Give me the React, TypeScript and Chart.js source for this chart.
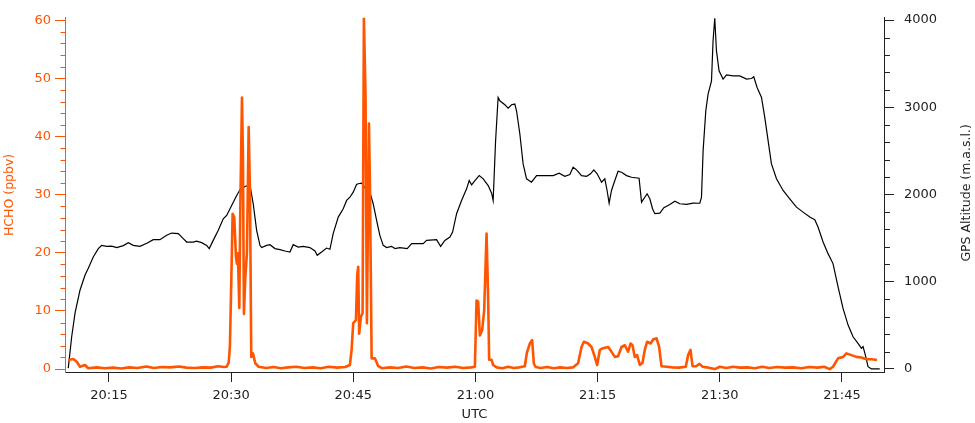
import React, { useEffect, useRef } from "react";
import { Chart, registerables } from "chart.js";

Chart.register(...registerables);

// Time in minutes after 20:00 UTC
const hchoTime = [
  10.0, 10.62, 11.04, 11.44, 12.05, 12.46, 13.5, 14.5, 15.5, 16.5, 17.5, 18.5, 19.6, 20.5, 21.5, 22.5, 23.6, 24.5, 25.5, 26.5,
  27.5, 28.4, 29.1, 29.45, 29.7, 29.85, 30.0, 30.18, 30.38, 30.59, 30.71, 30.83, 31.0, 31.12, 31.33, 31.45, 31.57, 31.73, 31.94, 32.15,
  32.31, 32.47, 32.68, 32.96, 33.38, 34.3, 35.2, 36.1, 37.0, 38.0, 39.0, 40.0, 41.0, 42.0, 43.0, 44.0, 44.58, 44.79, 44.99, 45.32,
  45.48, 45.6, 45.72, 45.93, 46.14, 46.3, 46.5, 46.67, 46.92, 47.04, 47.25, 47.65, 48.06, 48.5, 49.5, 50.5, 51.5, 52.5, 53.5, 54.5,
  55.5, 56.5, 57.5, 58.5, 59.5, 59.93, 60.13, 60.33, 60.54, 60.82, 61.07, 61.36, 61.56, 61.68, 61.98, 62.17, 62.6, 63.3, 64.0, 64.7,
  65.4, 66.06, 66.31, 66.68, 66.96, 67.17, 67.41, 68.0, 68.8, 69.6, 70.4, 71.2, 72.0, 72.6, 73.02, 73.31, 73.83, 74.25, 74.65, 74.94,
  75.27, 75.67, 76.29, 76.7, 77.11, 77.51, 77.93, 78.34, 78.74, 79.04, 79.28, 79.56, 79.85, 80.18, 80.51, 80.79, 81.07, 81.49, 81.81, 82.23,
  82.55, 82.84, 83.46, 84.2, 85.0, 85.82, 86.11, 86.4, 86.65, 87.1, 87.5, 87.9, 88.36, 89.38, 90.0, 90.8, 91.6, 92.5, 93.4, 94.3,
  95.2, 96.1, 97.0, 98.0, 99.0, 100.0, 101.0, 102.0, 102.8, 103.5, 103.9, 104.52, 105.13, 105.55, 106.16, 106.77, 107.39, 108.0, 108.62, 109.3,
];
const hchoValue = [
  1.56, 1.73, 1.27, 0.41, 0.7, 0.14, 0.3, 0.15, 0.25, 0.1, 0.3, 0.2, 0.45, 0.2, 0.35, 0.3, 0.45, 0.25, 0.2, 0.3,
  0.25, 0.5, 0.35, 0.41, 1.1, 4, 14, 26.7, 26.1, 19.3, 18.1, 19.9, 10.5, 27.3, 46.7, 36.4, 9.5, 15.5, 20, 41.6,
  30.7, 2.1, 2.7, 1.0, 0.4, 0.2, 0.35, 0.15, 0.3, 0.4, 0.2, 0.3, 0.15, 0.4, 0.25, 0.35, 0.7, 3.3, 7.9, 8.4,
  16.1, 17.6, 6.1, 9.0, 9.6, 60.5, 47, 7.9, 42.2, 31.9, 1.85, 1.85, 0.5, 0.15, 0.3, 0.2, 0.45, 0.2, 0.3, 0.1,
  0.35, 0.25, 0.4, 0.2, 0.3, 0.4, 11.8, 11.6, 5.8, 6.7, 10.1, 23.3, 11.9, 1.6, 1.6, 0.7, 0.3, 0.15, 0.4, 0.2,
  0.3, 0.5, 2.8, 4.4, 5.0, 0.9, 0.35, 0.2, 0.35, 0.15, 0.3, 0.2, 0.3, 1.0, 3.8, 4.7, 4.4, 3.8, 2.1, 0.7,
  3.3, 3.6, 3.8, 3.0, 2.1, 2.2, 3.8, 4.1, 3.0, 4.4, 4.1, 2.1, 2.4, 0.7, 1.1, 3.3, 4.7, 4.4, 5.1, 5.3,
  3.8, 0.5, 0.4, 0.3, 0.25, 0.4, 2.4, 3.3, 0.5, 0.5, 0.9, 0.4, 0.3, 0.0, 0.4, 0.2, 0.4, 0.25, 0.3, 0.15,
  0.4, 0.2, 0.35, 0.25, 0.3, 0.15, 0.35, 0.25, 0.4, 0.0, 0.4, 1.85, 2.1, 2.7, 2.4, 2.1, 2.0, 1.7, 1.7, 1.55,
];

const altTime = [
  10.0, 10.42, 10.83, 11.44, 12.05, 12.46, 13.07, 13.69, 14.1, 14.72, 15.33, 15.95, 16.76, 17.37, 17.98, 18.81, 19.7, 20.44, 21.26, 22.08,
  22.7, 23.51, 24.12, 24.54, 25.35, 25.77, 26.38, 26.99, 27.31, 27.8, 28.42, 29.03, 29.45, 30.06, 30.68, 31.08, 31.69, 32.1, 32.39, 32.71,
  33.13, 33.54, 33.74, 34.36, 34.76, 35.38, 35.99, 36.6, 37.22, 37.62, 38.24, 38.85, 39.67, 40.29, 40.57, 41.11, 41.72, 42.13, 42.53, 43.15,
  43.76, 44.18, 44.58, 44.99, 45.4, 45.6, 46.02, 46.42, 46.95, 47.44, 47.86, 48.26, 48.67, 49.09, 49.7, 50.11, 50.72, 51.62, 52.16, 53.58,
  54.0, 55.22, 55.72, 56.24, 56.86, 57.19, 57.68, 58.29, 58.91, 59.23, 59.52, 59.93, 60.46, 60.95, 61.56, 61.98, 62.17, 62.47, 62.78, 62.99,
  63.61, 64.01, 64.43, 64.83, 65.04, 65.45, 65.85, 66.27, 66.88, 67.5, 68.31, 69.54, 70.27, 70.97, 71.59, 71.99, 72.41, 73.02, 73.64, 74.13,
  74.53, 74.94, 75.48, 75.88, 76.16, 76.41, 76.7, 77.11, 77.51, 77.93, 78.55, 79.16, 80.09, 80.39, 80.79, 81.07, 81.41, 81.74, 82.02, 82.64,
  83.13, 83.86, 84.48, 85.09, 85.91, 86.72, 87.54, 87.75, 87.95, 88.28, 88.56, 88.98, 89.17, 89.38, 89.59, 89.91, 90.4, 90.82, 91.63, 92.45,
  93.28, 93.89, 94.17, 94.58, 95.12, 95.52, 95.93, 96.34, 96.96, 97.77, 98.59, 99.41, 100.22, 101.05, 101.66, 102.06, 102.68, 103.29, 103.9, 104.52,
  105.13, 105.75, 106.36, 106.97, 107.39, 107.59, 107.92, 108.2, 108.62, 109.64,
];
const altValue = [
  10, 369, 640, 903, 1074, 1154, 1284, 1380, 1417, 1406, 1409, 1391, 1414, 1448, 1417, 1406, 1444, 1482, 1482, 1532,
  1558, 1551, 1494, 1455, 1455, 1466, 1448, 1417, 1380, 1474, 1589, 1722, 1760, 1875, 1989, 2054, 2092, 2103, 2065, 1894,
  1589, 1417, 1391, 1417, 1425, 1380, 1368, 1352, 1341, 1425, 1398, 1406, 1391, 1352, 1303, 1341, 1386, 1372, 1551, 1741,
  1837, 1932, 1969, 2027, 2115, 2123, 2129, 2077, 2054, 1894, 1703, 1532, 1417, 1391, 1406, 1380, 1391, 1380, 1437, 1437,
  1474, 1482, 1406, 1474, 1512, 1569, 1780, 1932, 2065, 2160, 2111, 2160, 2217, 2180, 2103, 2015, 1932, 2617, 3112, 3075,
  3029, 2991, 3029, 3037, 2960, 2694, 2351, 2180, 2141, 2217, 2217, 2217, 2244, 2209, 2229, 2312, 2283, 2217, 2209, 2237,
  2283, 2237, 2141, 2180, 2046, 1901, 2046, 2160, 2267, 2255, 2217, 2198, 2187, 1912, 1969, 2008, 1951, 1837, 1780, 1787,
  1848, 1886, 1924, 1894, 1886, 1901, 1900, 1966, 2503, 2960, 3151, 3303, 3760, 4020, 3646, 3418, 3323, 3372, 3360, 3360,
  3323, 3330, 3349, 3227, 3112, 2884, 2617, 2351, 2180, 2046, 1951, 1855, 1798, 1741, 1711, 1627, 1455, 1322, 1208, 941,
  694, 503, 369, 294, 237, 255, 141, 26, 0, 0,
];

const xTickValues = [15, 30, 45, 60, 75, 90, 105];
const xTickLabels = ["20:15", "20:30", "20:45", "21:00", "21:15", "21:30", "21:45"];
const leftMajorTicks = [0, 10, 20, 30, 40, 50, 60];
const leftMinorTicks = [2, 4, 6, 8, 12, 14, 16, 18, 22, 24, 26, 28, 32, 34, 36, 38, 42, 44, 46, 48, 52, 54, 56, 58];
const rightMajorTicks = [0, 1000, 2000, 3000, 4000];
const rightMinorTicks = [200, 400, 600, 800, 1200, 1400, 1600, 1800, 2200, 2400, 2600, 2800, 3200, 3400, 3600, 3800];

const ORANGE = "#ff5500";
const INK = "#222222";
const FONT = "'DejaVu Sans', sans-serif";

const extraPlugin = {
  id: "extraAxes",
  afterDraw(chart: any) {
    const ctx = chart.ctx;
    const y = chart.scales.y;
    const y2 = chart.scales.y2;
    ctx.save();
    ctx.lineWidth = 1;
    ctx.strokeStyle = ORANGE;
    ctx.beginPath();
    for (const v of leftMinorTicks) {
      const p = Math.round(y.getPixelForValue(v)) + 0.5;
      ctx.moveTo(y.right - 4.5, p);
      ctx.lineTo(y.right, p);
    }
    ctx.stroke();
    ctx.strokeStyle = INK;
    ctx.beginPath();
    for (const v of rightMinorTicks) {
      const p = Math.round(y2.getPixelForValue(v)) + 0.5;
      ctx.moveTo(y2.left, p);
      ctx.lineTo(y2.left + 6, p);
    }
    ctx.stroke();
    // right axis title, reading bottom to top
    const area = chart.chartArea;
    ctx.translate(y2.right - 8.3, (area.top + area.bottom) / 2 - 2);
    ctx.rotate(-Math.PI / 2);
    ctx.fillStyle = INK;
    ctx.font = `12.5px ${FONT}`;
    ctx.textAlign = "center";
    ctx.textBaseline = "middle";
    ctx.fillText("GPS Altitude (m.a.s.l.)", 0, 0);
    ctx.restore();
  },
};

export default function App() {
  const ref = useRef<HTMLCanvasElement | null>(null);
  useEffect(() => {
    if (!ref.current) return;
    const chart = new Chart(ref.current, {
      type: "line",
      data: {
        datasets: [
          {
            label: "HCHO",
            data: hchoTime.map((t, i) => ({ x: t, y: hchoValue[i] })),
            borderColor: ORANGE,
            borderWidth: 2.6,
            pointRadius: 0,
            tension: 0,
            yAxisID: "y",
            borderJoinStyle: "round",
          },
          {
            label: "Altitude",
            data: altTime.map((t, i) => ({ x: t, y: altValue[i] })),
            borderColor: "#000000",
            borderWidth: 1.2,
            pointRadius: 0,
            tension: 0,
            yAxisID: "y2",
          },
        ],
      },
      options: {
        responsive: false,
        animation: false,
        devicePixelRatio: 1,
        layout: { padding: { top: 17, left: 0, right: 0, bottom: 0 } },
        plugins: { legend: { display: false }, tooltip: { enabled: false } },
        scales: {
          x: {
            type: "linear",
            position: "bottom",
            min: 9.6,
            max: 110.16,
            afterBuildTicks: (s: any) => {
              s.ticks = xTickValues.map((v) => ({ value: v }));
            },
            afterFit: (s: any) => {
              s.height = 51;
            },
            ticks: {
              autoSkip: false,
              maxRotation: 0,
              padding: 6,
              color: INK,
              font: { family: FONT, size: 13 },
              callback: (v: any) => {
                const i = xTickValues.indexOf(Number(v));
                return i >= 0 ? xTickLabels[i] : "";
              },
            },
            grid: { drawOnChartArea: false, drawTicks: true, tickLength: 10, tickColor: INK, tickWidth: 1 },
            border: { display: true, color: INK, width: 1 },
            title: { display: true, text: "UTC", color: INK, font: { family: FONT, size: 13 }, padding: { top: 0, bottom: 1 } },
          },
          y: {
            type: "linear",
            position: "left",
            min: -0.5,
            max: 60.4,
            afterBuildTicks: (s: any) => {
              s.ticks = leftMajorTicks.map((v) => ({ value: v }));
            },
            afterFit: (s: any) => {
              s.width = 65;
            },
            ticks: {
              padding: 4,
              color: ORANGE,
              font: { family: FONT, size: 13 },
              callback: (v: any) => String(v),
            },
            grid: { drawOnChartArea: false, drawTicks: true, tickLength: 10, tickColor: ORANGE, tickWidth: 1 },
            border: { display: true, color: ORANGE, width: 1 },
            title: { display: true, text: "HCHO (ppbv)", color: ORANGE, font: { family: FONT, size: 12.5 }, padding: { top: 2, bottom: 0 } },
          },
          y2: {
            type: "linear",
            position: "right",
            min: -35,
            max: 4026,
            afterBuildTicks: (s: any) => {
              s.ticks = rightMajorTicks.map((v) => ({ value: v }));
            },
            afterFit: (s: any) => {
              s.width = 91;
            },
            ticks: {
              padding: 10,
              color: INK,
              font: { family: FONT, size: 13 },
              callback: (v: any) => String(v),
            },
            grid: { drawOnChartArea: false, drawTicks: true, tickLength: 10, tickColor: INK, tickWidth: 1 },
            border: { display: true, color: INK, width: 1 },
          },
        },
      },
      plugins: [extraPlugin],
    });
    return () => chart.destroy();
  }, []);
  return (
    <div style={{ position: "fixed", left: 0, top: 0, width: 975, height: 423, background: "#fff" }}>
      <canvas ref={ref} width={975} height={423} style={{ display: "block", width: 975, height: 423 }} />
    </div>
  );
}
